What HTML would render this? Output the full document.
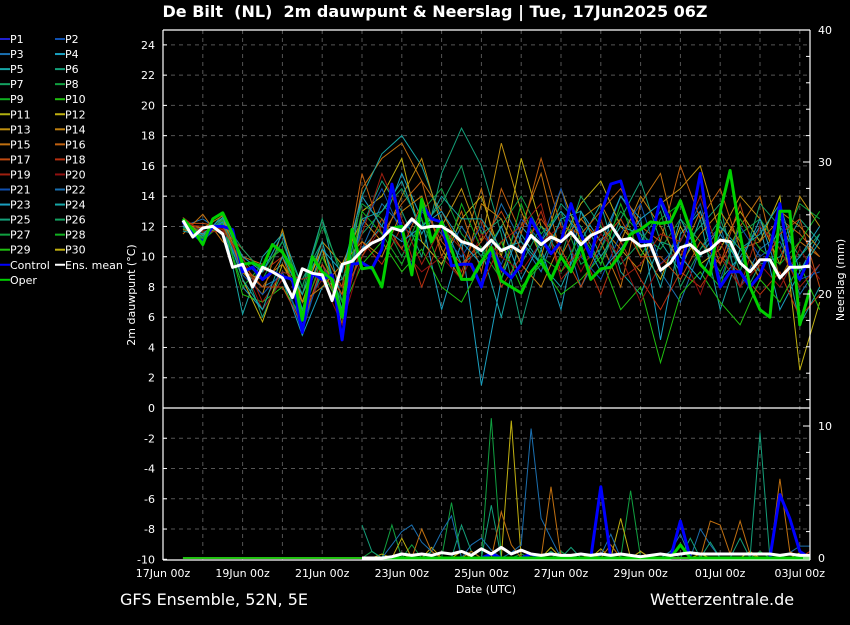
<!DOCTYPE html>
<html><head><meta charset="utf-8"><style>
body{margin:0;background:#000;width:850px;height:620px;overflow:hidden;font-family:"Liberation Sans","DejaVu Sans",sans-serif}
svg text{font-family:"DejaVu Sans","Liberation Sans",sans-serif;fill:#fff}
</style></head><body>
<svg id="c" width="850" height="620" xmlns="http://www.w3.org/2000/svg">
<text x="435" y="17" font-size="16" font-weight="bold" text-anchor="middle">De Bilt&#160;&#160;(NL)&#160;&#160;2m dauwpunt &amp; Neerslag | Tue, 17Jun2025 06Z</text>
<text x="120" y="605" font-size="16">GFS Ensemble, 52N, 5E</text>
<text x="650" y="605" font-size="16">Wetterzentrale.de</text>
<text x="486" y="593" font-size="11" text-anchor="middle">Date (UTC)</text>
<text transform="translate(135,295) rotate(-90)" font-size="11" text-anchor="middle">2m dauwpunt (°C)</text>
<text transform="translate(844,280) rotate(-90)" font-size="11" text-anchor="middle">Neerslag (mm)</text>
<g id="grid"></g><g id="plot"></g><g id="axes"></g><g id="legend"></g>
</svg>
<script>
const xTickLabels=["17Jun 00z","19Jun 00z","21Jun 00z","23Jun 00z","25Jun 00z","27Jun 00z","29Jun 00z","01Jul 00z","03Jul 00z"];
const yTicks=[-10,-8,-6,-4,-2,0,2,4,6,8,10,12,14,16,18,20,22,24];
const y2Ticks=[0,10,20,30,40];
const meanT=[12.4,11.3,11.9,12.0,11.5,9.3,9.5,8.0,9.3,9.0,8.6,7.3,9.2,8.9,8.8,7.1,9.5,9.7,10.4,10.9,11.2,11.9,11.7,12.5,11.9,12.0,12.0,11.6,11.0,10.8,10.4,11.1,10.4,10.7,10.3,11.4,10.8,11.3,11.0,11.6,10.8,11.4,11.7,12.1,11.1,11.2,10.7,10.8,9.1,9.6,10.6,10.8,10.2,10.5,11.1,11.0,9.6,9.0,9.8,9.8,8.6,9.3,9.3,9.4];
const controlT=[12.3,11.5,11.0,12.0,12.0,11.8,9.0,9.3,8.5,9.0,8.7,8.5,5.0,8.9,8.5,8.8,4.5,9.5,9.6,9.2,10.5,14.8,11.7,9.0,13.5,12.5,12.3,9.4,9.5,9.5,8.0,10.5,9.2,8.6,9.5,12.5,11.2,10.2,11.0,13.5,11.5,10.0,12.8,14.8,15.0,12.8,11.0,11.0,13.8,12.3,8.9,12.0,15.5,11.0,8.0,9.0,9.0,8.0,8.8,10.5,13.5,9.5,8.5,10.0];
const operT=[12.5,11.8,10.8,12.5,12.9,11.5,9.5,9.6,9.3,10.8,10.3,9.2,5.8,10.0,9.0,8.5,6.0,11.8,9.2,9.3,8.0,11.9,12.0,8.8,13.8,11.0,12.3,10.5,8.5,8.5,9.7,10.6,8.4,8.0,7.6,9.0,9.8,8.5,10.0,9.0,10.7,8.5,9.2,9.3,10.2,11.5,11.8,12.3,12.2,12.3,13.7,11.8,9.5,8.8,13.0,15.7,11.5,8.0,6.5,6.0,13.0,13.0,5.5,7.8];
const members=[
[12.0,12.5,11.6,9.0,8.0,8.7,5.5,9.0,6.5,10.5,13.5,12.0,11.0,9.5,12.0,10.0,13.5,11.0,9.0,12.5,8.0,10.5,14.0,12.0,9.0,7.0,10.5,12.0,8.0,10.5,11.5,7.5,9.5],
[11.5,12.8,11.0,10.0,9.5,10.5,7.0,10.0,7.5,14.5,16.5,17.5,15.0,13.0,10.5,14.5,9.0,12.0,15.5,10.0,12.5,11.0,8.0,13.5,15.5,10.0,13.0,9.5,12.0,14.0,8.5,11.0,10.0],
[12.2,11.0,12.5,6.2,10.0,11.5,8.0,12.5,7.0,14.0,16.8,18.0,16.0,12.5,9.5,10.5,6.0,11.5,9.5,8.0,11.0,13.5,9.0,7.5,11.0,9.0,12.5,6.5,10.5,9.0,12.0,5.5,8.0],
[12.6,11.2,12.8,9.5,6.0,9.0,8.5,11.0,6.0,12.0,15.0,13.0,10.0,15.5,18.5,16.0,11.5,5.5,10.5,13.5,12.0,9.5,12.5,15.0,11.0,10.5,12.0,13.5,7.0,9.5,10.0,12.5,11.0],
[12.0,11.5,12.2,8.0,6.5,8.5,4.8,8.0,8.5,10.5,12.0,15.5,12.5,6.5,11.0,1.5,8.5,12.0,10.5,6.5,13.0,11.0,14.0,12.5,4.5,11.5,13.0,8.5,10.0,12.0,6.5,9.0,11.5],
[11.8,11.5,12.0,9.0,7.5,11.8,7.0,11.0,9.5,12.5,11.0,14.0,16.5,12.0,14.5,11.0,17.5,13.0,10.0,14.5,11.0,12.0,10.5,9.0,13.5,14.5,16.0,11.5,14.0,12.5,9.5,14.0,12.0],
[12.4,11.0,12.6,8.5,5.7,9.5,7.5,10.5,5.5,13.0,14.0,16.5,11.0,9.5,12.5,14.0,10.0,16.5,12.0,11.0,13.5,15.0,12.0,10.5,8.5,12.0,9.5,10.5,13.0,11.0,14.0,2.5,7.0],
[12.1,12.0,11.8,10.5,9.0,10.0,6.5,9.5,6.0,11.0,9.5,12.0,8.0,11.5,9.0,12.5,8.0,10.0,13.0,9.0,10.5,7.5,11.0,8.5,6.5,9.0,8.0,10.0,9.0,7.5,9.0,6.0,7.5],
[12.3,11.6,12.1,9.8,8.5,11.0,8.0,12.0,9.0,13.5,12.5,10.0,13.0,14.5,11.5,10.0,12.0,14.0,11.5,13.0,9.5,10.5,13.0,11.5,10.5,12.5,11.0,9.0,11.5,12.5,10.5,13.5,12.5],
[12.0,11.2,12.4,7.5,7.0,8.0,6.0,9.0,6.5,9.5,11.0,9.0,10.5,8.0,7.0,9.5,11.0,8.0,9.5,7.5,8.5,10.0,6.5,8.0,3.0,7.5,9.0,7.0,5.5,8.5,7.0,9.5,6.5],
[12.5,11.4,12.0,9.2,8.0,10.0,6.5,10.5,8.0,15.5,11.5,13.5,15.0,10.0,13.0,9.0,14.5,11.5,16.5,12.0,11.5,13.0,14.5,12.0,11.0,16.0,12.5,14.5,10.5,11.0,12.5,11.5,10.0],
[12.2,11.8,12.3,8.8,7.5,9.0,5.0,9.5,7.0,12.0,14.5,11.5,13.0,11.5,10.0,12.0,9.5,12.5,11.0,14.5,10.0,8.5,11.5,13.5,9.5,11.0,13.5,8.5,12.0,10.0,11.0,8.5,9.0],
[11.9,11.3,12.5,10.5,9.0,11.0,7.5,12.5,8.5,11.5,13.0,14.5,12.0,13.5,16.0,11.5,12.5,9.5,12.0,10.0,14.0,12.0,9.5,11.0,13.0,8.0,10.5,12.5,9.0,13.5,12.0,10.0,11.5],
[12.4,11.7,11.9,9.5,6.5,8.5,6.5,8.5,5.5,10.0,12.0,10.5,9.0,10.0,8.5,11.5,10.0,9.0,11.0,12.0,9.0,11.5,10.0,7.0,9.5,10.5,7.5,11.0,8.0,9.5,8.0,10.5,8.5],
[12.1,11.9,12.7,9.0,8.5,9.5,7.0,8.0,9.5,11.0,10.0,13.0,14.0,10.5,8.5,13.5,12.5,9.5,8.0,11.0,12.5,13.5,11.0,14.0,12.0,9.5,11.5,13.0,11.0,8.5,13.0,12.0,10.5],
[12.3,11.1,12.2,8.0,9.5,10.5,6.0,10.0,7.0,13.0,11.5,9.5,12.5,9.0,13.5,10.5,8.5,13.5,10.0,9.0,11.5,9.5,13.5,10.0,12.5,13.5,9.5,8.0,12.5,10.5,9.5,11.0,13.0],
[12.6,11.6,11.7,10.0,7.0,9.0,8.5,9.0,8.0,11.5,15.5,12.5,9.5,12.0,10.5,8.0,11.0,12.0,13.5,8.5,10.0,12.5,8.5,9.5,11.5,11.0,14.0,10.0,8.0,12.0,10.5,8.0,9.5],
[11.7,11.4,12.3,8.5,6.5,10.0,7.5,11.0,6.5,12.5,13.0,15.0,11.5,14.0,12.5,12.5,10.5,11.0,9.5,12.5,13.0,10.0,12.0,11.5,8.0,12.5,10.0,12.0,10.5,11.5,13.5,9.0,11.0],
[12.2,12.2,12.0,9.5,8.0,8.0,5.5,9.5,7.5,10.0,12.5,10.5,13.5,11.0,9.5,11.0,13.0,10.5,12.5,10.5,8.0,11.0,12.5,10.0,10.0,8.5,11.0,9.5,13.5,9.0,11.5,12.5,8.0],
[12.0,11.5,12.6,10.0,9.0,11.5,6.5,10.5,9.0,14.0,12.0,11.0,12.0,13.0,11.0,9.5,12.0,8.5,11.0,13.0,11.5,9.0,10.5,12.5,13.5,10.0,8.5,11.5,9.5,12.5,8.5,10.0,12.0]];
const memberColors=["#1a6fb0","#c07010","#17a6a6","#14a07a","#1aa0c0","#c09010","#c0b010","#b83010","#10a040","#20c010","#c06010","#1050b0","#14a060","#901010","#c08010","#10b020","#a02010","#17a6a6","#c04a10","#1aa0c0"];
const precipStart=18;
const precipMembers=[
[0,0.5,0,2.5,0,1,0,0,0,4.2,0,0.5,0,10.6,0,0,0.3,0,0,0,0.5,0,0,0,0,0,0,5.1,0,0,0,0.5,0,0,0,0,0,0,0,0,0.5,0,0,0,0,0],
[0,0,0.3,0,1.5,0,0,0.8,0,0,0.5,0,0,0,0,10.4,0,0,0,0.8,0,0,0,0,0.7,0,3.0,0,0.5,0,0,0,0,0,0.3,0,0,0,0,0.5,0,0,0,0,0.4,0],
[0,0,0,1.0,2.0,2.5,1.2,0.5,2.0,3.2,0,1.0,1.5,0.6,0,0.4,1.0,9.8,3.0,1.5,0,0,0.3,0,0.2,1.8,0,0,0,0,0,0.5,1.8,0,2.2,1.0,0,0,0,0,0,0,0,0.4,0.9,0.9],
[2.5,0.5,0,0,0,0,0,0.5,0,0,2.5,0.5,0,4.0,0,0,0,0,0,0.5,0,0.8,0,0,0,0,0,0,0,0,0,0,0,1.5,0,1.2,0,0,1.5,0,9.5,0,0,0,0,0],
[0,0,0,0,0.3,0,2.2,0.5,0,0,0,0.5,0,0,3.5,1.0,0,0,0,5.4,0,0,0,0.3,0,1.0,0,0,0,0,0,0,0,0,0,2.8,2.5,0.3,2.8,0.3,0,0,6.0,0.5,0,0],
[0,0,0,0,0,0,0,0,0,0,0,0,0,0,0,0,0,0,0,0,0,0,0,0,0,0,0,0,0,0,0,0,0,0,0,0,0,0,0,0,0,0,0,0,0,0.5]];
const precipColors=["#10a040","#c0b010","#1a6fb0","#14a07a","#c07010","#b83010"];
const precipControl=[0,0,0,0,0,0,0,0,0,0,0,0,0,0.3,0,0,0,0.3,0,0,0,0,0,0,5.4,0,0,0,0,0,0,0,2.8,0,0,0,0,0,0,0,0,0,4.8,3.0,0.5,0];
const precipOper=[0,0,0,0,0,0,0,0,0,0,0,0,0,0,0,0,0,0,0,0,0,0,0,0,0,0,0,0,0,0,0,0,1.0,0,0,0,0,0,0,0,0,0,0,0,0,0];
const precipMean=[0,0,0,0.1,0.3,0.2,0.3,0.2,0.4,0.3,0.5,0.2,0.7,0.3,0.8,0.3,0.6,0.3,0.2,0.3,0.2,0.2,0.3,0.2,0.3,0.2,0.3,0.2,0.1,0.2,0.3,0.2,0.3,0.4,0.3,0.3,0.3,0.3,0.3,0.3,0.3,0.3,0.2,0.3,0.2,0.2];
const legendNames=["P1","P2","P3","P4","P5","P6","P7","P8","P9","P10","P11","P12","P13","P14","P15","P16","P17","P18","P19","P20","P21","P22","P23","P24","P25","P26","P27","P28","P29","P30"];
const legendColors=["#2020d0","#1050b0","#1a6fb0","#1aa0c0","#17a6a6","#14a07a","#14a060","#10a040","#10b020","#20c010","#b0b010","#c0b010","#c09010","#c08010","#c07010","#c06010","#c04a10","#b83010","#a02010","#901010","#1050b0","#1a6fb0","#1aa0c0","#17a6a6","#14a07a","#14a060","#10a040","#10b020","#20c010","#c0b010"];

const NS="http://www.w3.org/2000/svg";
const X0=163,X1=810,YT=30,YB=560,PXDAY=39.8;
const xH=h=>X0+h/24*PXDAY;
const yT=v=>408-v*15.13;
const yP=v=>558-v*13.2;
function mk(tag,attrs,parent){const e=document.createElementNS(NS,tag);for(const k in attrs)e.setAttribute(k,attrs[k]);parent.appendChild(e);return e;}
const grid=document.getElementById('grid'),plot=document.getElementById('plot'),axes=document.getElementById('axes'),leg=document.getElementById('legend');
for(let d=1;d<16.3;d++){const l=mk('line',{x1:xH(d*24),x2:xH(d*24),y1:YT,y2:YB,stroke:'#555','stroke-dasharray':'4,4','stroke-width':1},grid);

}
yTicks.forEach(v=>{const y=yT(v);if(v>-10&&v<24.5){const l=mk('line',{x1:X0,x2:X1,y1:y,y2:y,stroke:'#555','stroke-dasharray':'4,4','stroke-width':1},grid);

}
const t=mk('text',{x:155,y:y+4,'font-size':11,'text-anchor':'end'},axes);t.textContent=v;


mk('line',{x1:X0,x2:X0+4,y1:y,y2:y,stroke:'#fff'},axes);});
for(let v=0;v<=40;v+=2){const y=yP(v);mk('line',{x1:X1-(v%10?4:7),x2:X1,y1:y,y2:y,stroke:'#fff'},axes);}
y2Ticks.forEach(v=>{const t=mk('text',{x:818,y:yP(v)+4,'font-size':11},axes);t.textContent=v;

});
xTickLabels.forEach((s,i)=>{const t=mk('text',{x:xH(i*48),y:577,'font-size':11,'text-anchor':'middle'},axes);t.textContent=s;

});
[[X0,YT,X0,YB],[X1,YT,X1,YB],[X0,YT,X1,YT],[X0,YB,X1,YB],[X0,408,X1,408]].forEach(a=>mk('line',{x1:a[0],y1:a[1],x2:a[2],y2:a[3],stroke:'#fff','stroke-width':1.2},axes));
function pts(arr,step,start,fy){return arr.map((v,i)=>xH(start+i*step).toFixed(1)+','+fy(v).toFixed(1)).join(' ');}
members.forEach((m,i)=>{const p=mk('polyline',{points:pts(m,12,12,yT),fill:'none',stroke:memberColors[i],'stroke-width':1},plot);

});
precipMembers.forEach((m,i)=>{const p=mk('polyline',{points:pts(m,6,12+precipStart*6,yP),fill:'none',stroke:precipColors[i],'stroke-width':1},plot);

});
const base=mk('line',{x1:xH(12),x2:X1,y1:yP(0),y2:yP(0),stroke:'#20c010','stroke-width':2},plot);


const series=[[controlT,'#0000ff',3,yT,12,'control-dewpoint-line'],[operT,'#00d000',3,yT,12,'oper-dewpoint-line'],[meanT,'#ffffff',3,yT,12,'mean-dewpoint-line'],
[precipControl,'#0000ff',3,yP,12+precipStart*6,'control-precip-line'],[precipOper,'#00d000',3,yP,12+precipStart*6,'oper-precip-line'],[precipMean,'#ffffff',3,yP,12+precipStart*6,'mean-precip-line']];
series.forEach(s=>{const p=mk('polyline',{points:pts(s[0],6,s[4],s[3]),fill:'none',stroke:s[1],'stroke-width':s[2],'stroke-linejoin':'round'},plot);

});
const leg2=legendNames.concat(["Control","Ens. mean","Oper"]);const legC=legendColors.concat(["#0000ff","#ffffff","#00d000"]);
leg2.forEach((n,i)=>{const col=i%2,row=Math.floor(i/2);const x=col?55:0,y=39+row*15.05;
const g=mk('g',{},leg);


mk('line',{x1:x,x2:x+10,y1:y,y2:y,stroke:legC[i],'stroke-width':2},g);
const t=mk('text',{x:x+10,y:y+4,'font-size':11},g);t.textContent=n;});
</script>
</body></html>
